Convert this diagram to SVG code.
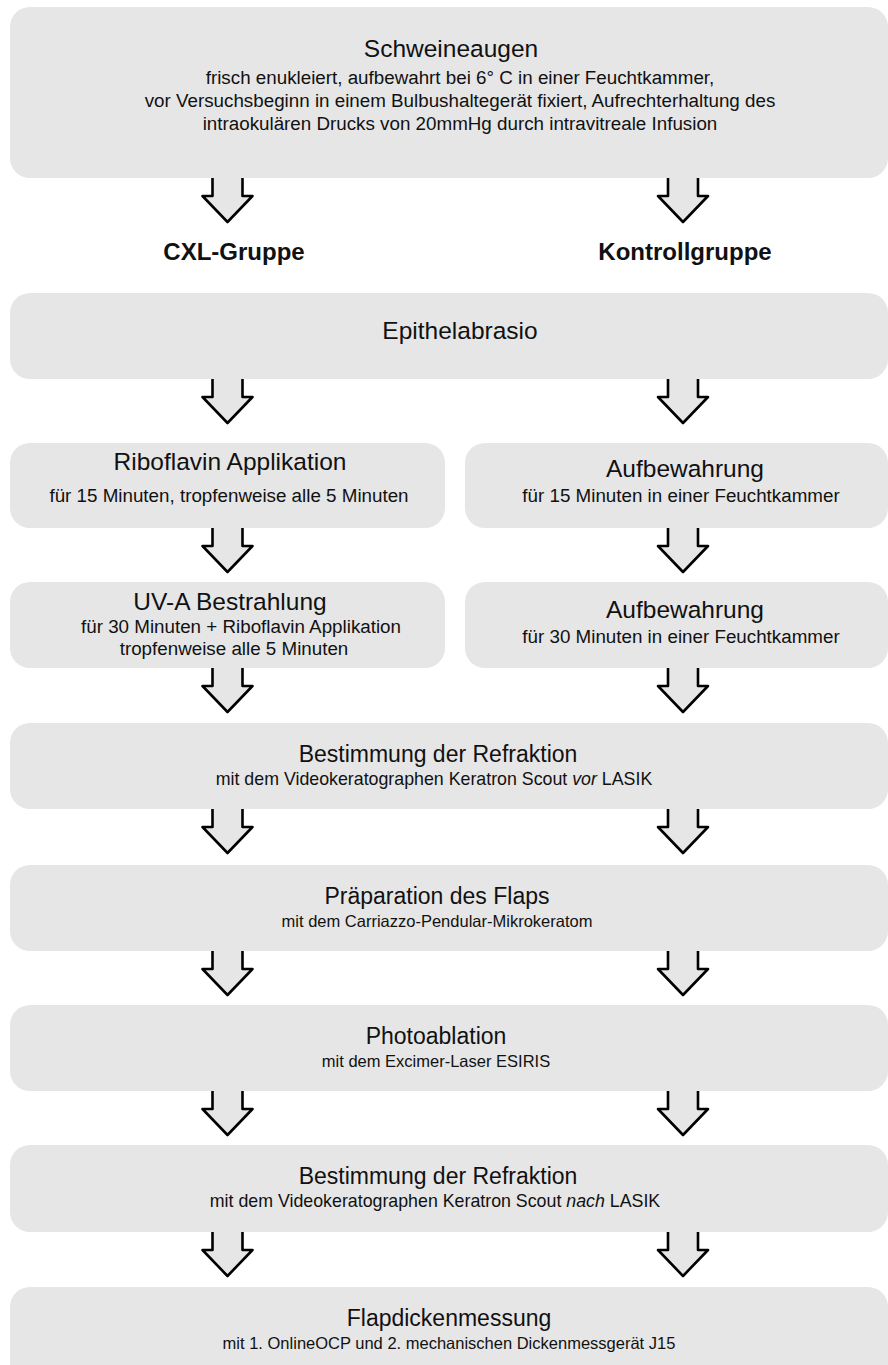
<svg xmlns="http://www.w3.org/2000/svg" xmlns:xlink="http://www.w3.org/1999/xlink" width="888" height="1365" viewBox="0 0 888 1365">
  <style>
    .box { fill: #e6e6e6; }
    .t { font-family: "Liberation Sans", Arial, sans-serif; fill: #111; text-anchor: middle; }
    .title { font-size: 23px; }
    .title-l { font-size: 24.5px; }
    .sub { font-size: 16.5px; }
    .sub-m { font-size: 17.8px; }
    .sub-l { font-size: 18.8px; }
    .grp { font-size: 24px; font-weight: bold; }
    .arrow-fill { fill: #e6e6e6; stroke: none; }
    .arrow-line { fill: none; stroke: #000; stroke-width: 2.6; stroke-linejoin: round; }
  </style>
  <defs>
    <!-- open-topped block arrow, origin at the top centre of its shaft -->
    <g id="arr">
      <path class="arrow-fill" d="M-15,-1 V18 H-25 L0,44 L25,18 H15 V-1 Z"/>
      <path class="arrow-line" d="M-15,-1 V18 H-25 L0,44 L25,18 H15 V-1"/>
    </g>
  </defs>
  <rect width="888" height="1365" fill="#fff"/>

  <g id="connectors">
    <use xlink:href="#arr" x="227.5" y="178"/>
    <use xlink:href="#arr" x="683" y="178"/>
    <use xlink:href="#arr" x="227.5" y="379"/>
    <use xlink:href="#arr" x="683" y="379"/>
    <use xlink:href="#arr" x="227.5" y="528"/>
    <use xlink:href="#arr" x="683" y="528"/>
    <use xlink:href="#arr" x="227.5" y="668"/>
    <use xlink:href="#arr" x="683" y="668"/>
    <use xlink:href="#arr" x="227.5" y="809"/>
    <use xlink:href="#arr" x="683" y="809"/>
    <use xlink:href="#arr" x="227.5" y="951"/>
    <use xlink:href="#arr" x="683" y="951"/>
    <use xlink:href="#arr" x="227.5" y="1091"/>
    <use xlink:href="#arr" x="683" y="1091"/>
    <use xlink:href="#arr" x="227.5" y="1232"/>
    <use xlink:href="#arr" x="683" y="1232"/>
  </g>

  <g id="schweineaugen">
    <rect class="box" x="10" y="7" width="878" height="171" rx="20"/>
    <text class="t title-l" x="451" y="57">Schweineaugen</text>
    <text class="t sub-l" x="460" y="84">frisch enukleiert, aufbewahrt bei 6° C in einer Feuchtkammer,</text>
    <text class="t sub-l" x="460" y="107">vor Versuchsbeginn in einem Bulbushaltegerät fixiert, Aufrechterhaltung des</text>
    <text class="t sub-l" x="460" y="130">intraokulären Drucks von 20mmHg durch intravitreale Infusion</text>
  </g>

  <g id="label-cxl">
    <text class="t grp" x="234" y="260">CXL-Gruppe</text>
  </g>
  <g id="label-kontrolle">
    <text class="t grp" x="685" y="260">Kontrollgruppe</text>
  </g>

  <g id="epithelabrasio">
    <rect class="box" x="10" y="293" width="878" height="86" rx="20"/>
    <text class="t title-l" x="460" y="339">Epithelabrasio</text>
  </g>

  <g id="riboflavin">
    <rect class="box" x="10" y="443" width="435" height="85" rx="20"/>
    <text class="t title-l" x="230" y="470">Riboflavin Applikation</text>
    <text class="t sub-l" x="229" y="502">für 15 Minuten, tropfenweise alle 5 Minuten</text>
  </g>

  <g id="aufbewahrung-15">
    <rect class="box" x="465" y="443" width="423" height="85" rx="20"/>
    <text class="t title-l" x="685" y="477">Aufbewahrung</text>
    <text class="t sub-l" x="681" y="502">für 15 Minuten in einer Feuchtkammer</text>
  </g>

  <g id="uva">
    <rect class="box" x="10" y="582" width="435" height="86" rx="20"/>
    <text class="t title-l" x="230" y="610">UV-A Bestrahlung</text>
    <text class="t sub-l" x="241" y="633">für 30 Minuten + Riboflavin Applikation</text>
    <text class="t sub-l" x="234" y="655">tropfenweise alle 5 Minuten</text>
  </g>

  <g id="aufbewahrung-30">
    <rect class="box" x="465" y="582" width="423" height="86" rx="20"/>
    <text class="t title-l" x="685" y="618">Aufbewahrung</text>
    <text class="t sub-l" x="681" y="643">für 30 Minuten in einer Feuchtkammer</text>
  </g>

  <g id="refraktion-vor">
    <rect class="box" x="10" y="723" width="878" height="86" rx="20"/>
    <text class="t title" x="438" y="762">Bestimmung der Refraktion</text>
    <text class="t sub-m" x="434" y="785">mit dem Videokeratographen Keratron Scout <tspan font-style="italic">vor</tspan> LASIK</text>
  </g>

  <g id="flap">
    <rect class="box" x="10" y="865" width="878" height="86" rx="20"/>
    <text class="t title" x="437" y="904">Präparation des Flaps</text>
    <text class="t sub" x="437" y="927">mit dem Carriazzo-Pendular-Mikrokeratom</text>
  </g>

  <g id="photoablation">
    <rect class="box" x="10" y="1005" width="878" height="86" rx="20"/>
    <text class="t title" x="436" y="1044">Photoablation</text>
    <text class="t sub" x="436" y="1067">mit dem Excimer-Laser ESIRIS</text>
  </g>

  <g id="refraktion-nach">
    <rect class="box" x="10" y="1145" width="878" height="87" rx="20"/>
    <text class="t title" x="438" y="1184">Bestimmung der Refraktion</text>
    <text class="t sub-m" x="435" y="1207">mit dem Videokeratographen Keratron Scout <tspan font-style="italic">nach</tspan> LASIK</text>
  </g>

  <g id="flapdicke">
    <rect class="box" x="10" y="1287" width="878" height="100" rx="20"/>
    <text class="t title" x="449" y="1326">Flapdickenmessung</text>
    <text class="t sub" x="449" y="1349">mit 1. OnlineOCP und 2. mechanischen Dickenmessgerät J15</text>
  </g>
</svg>
